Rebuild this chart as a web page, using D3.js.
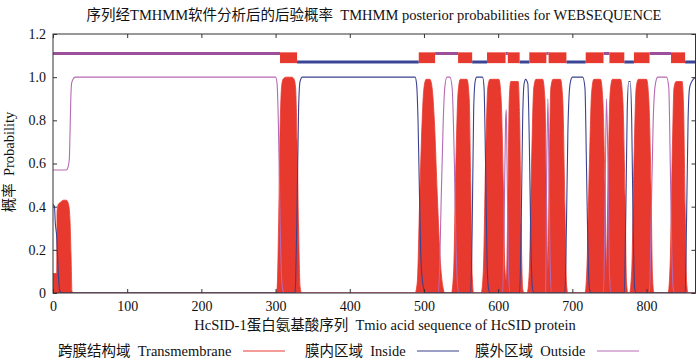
<!DOCTYPE html>
<html><head><meta charset="utf-8">
<script src="https://cdn.jsdelivr.net/npm/d3@7"></script>
<style>
html,body{margin:0;padding:0;background:#fff;}
text{font-family:"Liberation Serif","Times New Roman","Noto Sans CJK SC",serif;fill:#111;white-space:pre;}
</style></head>
<body><svg id="c" width="700" height="360"></svg>
<script>
// ---- data ----
const titleText = "序列经TMHMM软件分析后的后验概率  TMHMM posterior probabilities for WEBSEQUENCE";
const xTitle = "HcSID-1蛋白氨基酸序列  Tmio acid sequence of HcSID protein";
const yTitle = "概率  Probability";
const xTicks = [0,100,200,300,400,500,600,700,800];
const yTicks = [0,0.2,0.4,0.6,0.8,1.0,1.2];
const yTickLabels = ["0","0.2","0.4","0.6","0.8","1.0","1.2"];
const seqLength = 866;

// transmembrane posterior probability (position, probability)
const tmSeq  = [0,5,5.5,7,10,14,18,21,23,24.5,25.5,27, 300,302,304,306,308,310,314,322,325,327,329,331,333,335,
  488,491,494,497,500,503,508,511,514,518,522,526,528,
  537,540,543,546,549,558,561,563,565,567,
  577,580,583,586,589,601,604,607,609,611,613,615,617,627,629,631,633,635,
  639,642,645,648,651,660,663,665,667,669,671,674,684,687,690,692,694,
  717,720,723,726,729,738,741,744,746,748,751,754,765,768,771,773,775,
  777,780,783,786,789,800,803,806,808,810,
  829,832,835,837,840,848,850,852,854,856,866];
const tmProb = [0.09,0.09,0.38,0.41,0.42,0.43,0.43,0.41,0.33,0.15,0.01,0, 0,0.02,0.3,0.75,0.95,0.99,1.0,1.0,0.99,0.95,0.7,0.3,0.03,0,
  0,0.05,0.4,0.75,0.95,0.99,0.99,0.95,0.8,0.45,0.15,0.02,0,
  0,0.1,0.6,0.93,0.99,0.99,0.9,0.5,0.08,0,
  0,0.1,0.6,0.95,0.99,0.99,0.9,0.5,0.12,0.06,0.4,0.9,0.98,0.98,0.8,0.3,0.02,0,
  0,0.1,0.6,0.95,0.99,0.99,0.9,0.5,0.1,0.6,0.95,0.99,0.99,0.9,0.4,0.05,0,
  0,0.15,0.6,0.93,0.99,0.99,0.9,0.5,0.12,0.5,0.93,0.99,0.99,0.9,0.45,0.05,0,
  0,0.1,0.6,0.95,0.99,0.99,0.9,0.5,0.08,0,
  0,0.15,0.7,0.95,0.98,0.98,0.85,0.4,0.05,0,0];

// inside probability
const inSeq  = [0,2,3,5,7,9,12, 326,327,329,331,333,336, 488,490,492,494,496,499,502,
  563,565,567,569,571,579,581,583,585,587,589,
  629,631,633,635,637,640,642,644,646,648,
  690,692,694,697,700,714,717,719,721,723,725,
  770,772,774,776,778,780,782,784,786,
  852,854,856,858,861,866];
const inProb = [0.41,0.40,0.33,0.26,0.1,0.01,0, 0,0.05,0.4,0.85,0.98,1.0, 1.0,0.97,0.8,0.45,0.15,0.03,0,
  0,0.3,0.85,0.98,1.0,1.0,0.95,0.6,0.15,0.02,0,
  0,0.3,0.8,0.97,0.99,0.97,0.7,0.25,0.03,0,
  0,0.3,0.75,0.97,1.0,1.0,0.95,0.6,0.2,0.02,0,
  0,0.35,0.85,0.98,0.98,0.8,0.3,0.02,0,
  0,0.35,0.8,0.95,0.98,1.0];

// outside probability
const outSeq  = [0,18,20,22,23,24,25,27,30, 300,302,304,306,308,310,312,
  519,521,523,526,528,531,535,538,541,543,545,547,
  606,608,610,611,612,614,616,
  664,665,667,668,670,672,
  742,744,746,748,750,752,
  804,806,809,812,815,827,830,832,834,836,838,866];
const outProb = [0.57,0.57,0.58,0.62,0.75,0.9,0.97,0.99,1.0, 1.0,0.97,0.75,0.35,0.08,0.01,0,
  0,0.1,0.4,0.8,0.95,1.0,1.0,0.95,0.6,0.25,0.05,0,
  0,0.3,0.8,0.85,0.6,0.1,0,
  0,0.4,0.9,0.7,0.15,0,
  0,0.4,0.9,0.6,0.1,0,
  0,0.3,0.8,0.97,1.0,1.0,0.95,0.6,0.2,0.02,0,0];

// predicted topology segments
const segStart = [0,306,329,493,515,546,565,585,610,613,629,642,665,668,692,718,742,750,770,783,804,833,852];
const segEnd   = [306,329,493,515,546,565,585,610,613,629,642,665,668,692,718,742,750,770,783,804,833,852,866];
const segType  = ["outside","TM","inside","TM","outside","TM","inside","TM","outside","TM","inside","TM","outside","TM","inside","TM","outside","TM","inside","TM","outside","TM","inside"];

const legendCN = ["跨膜结构域","膜内区域","膜外区域"];
const legendEN = ["Transmembrane","Inside","Outside"];

// ---- drawing ----
const C = {tm:"#e8392f", inside:"#3b428f", outside:"#b56ab3", topIn:"#3a4596", topOut:"#9c4f9b"};
const svg = d3.select("#c");
const m = {l:53, r:695.5, t:34, b:293};
const x = d3.scaleLinear().domain([0, seqLength]).range([m.l, m.r]);
const y = d3.scaleLinear().domain([0, 1.2]).range([m.b, m.t]);

svg.append("text").attr("x",374).attr("y",20).attr("text-anchor","middle")
  .style("font-size","14.5px").text(titleText);

svg.append("defs").append("clipPath").attr("id","pc")
  .append("rect").attr("x",m.l).attr("y",m.t).attr("width",m.r-m.l).attr("height",m.b-m.t);
const g = svg.append("g").attr("clip-path","url(#pc)");

const tmData = tmSeq.map((s,i)=>[s,tmProb[i]]);
g.append("path").datum(tmData)
  .attr("d", d3.area().x(d=>x(d[0])).y0(y(0)).y1(d=>y(d[1])).curve(d3.curveMonotoneX))
  .attr("fill", C.tm).attr("stroke", C.tm).attr("stroke-width",0.8);

const line = d3.line().x(d=>x(d[0])).y(d=>y(d[1])).curve(d3.curveMonotoneX);
g.append("path").datum(outSeq.map((s,i)=>[s,outProb[i]]))
  .attr("d", line).attr("fill","none").attr("stroke", C.outside).attr("stroke-width",1.1);
g.append("path").datum(inSeq.map((s,i)=>[s,inProb[i]]))
  .attr("d", line).attr("fill","none").attr("stroke", C.inside).attr("stroke-width",1.1);

// topology bar
const segs = segStart.map((s,i)=>({s, e:segEnd[i], t:segType[i]}));
g.selectAll("line.top").data(segs.filter(d=>d.t!=="TM")).join("line")
  .attr("x1",d=>x(d.s)).attr("x2",d=>x(d.e))
  .attr("y1",d=>d.t==="inside"?y(1.07):y(1.11)).attr("y2",d=>d.t==="inside"?y(1.07):y(1.11))
  .attr("stroke",d=>d.t==="inside"?C.topIn:C.topOut).attr("stroke-width",3);
g.selectAll("rect.top").data(segs.filter(d=>d.t==="TM")).join("rect")
  .attr("x",d=>x(d.s)).attr("width",d=>x(d.e)-x(d.s))
  .attr("y",y(1.115)).attr("height",y(1.065)-y(1.115))
  .attr("fill",C.tm);

// frame and ticks
svg.append("rect").attr("x",m.l).attr("y",m.t).attr("width",m.r-m.l).attr("height",m.b-m.t)
  .attr("fill","none").attr("stroke","#333").attr("stroke-width",1);
const xb = svg.append("g").attr("transform",`translate(0,${m.b})`)
  .call(d3.axisBottom(x).tickValues(xTicks).tickSizeInner(-4).tickSizeOuter(0).tickPadding(8));
const xt = svg.append("g").attr("transform",`translate(0,${m.t})`)
  .call(d3.axisTop(x).tickValues(xTicks).tickSizeInner(-4).tickSizeOuter(0).tickFormat(""));
const yl = svg.append("g").attr("transform",`translate(${m.l},0)`)
  .call(d3.axisLeft(y).tickValues(yTicks).tickSizeInner(-4).tickSizeOuter(0).tickPadding(7)
    .tickFormat((d,i)=>yTickLabels[i]));
const yr = svg.append("g").attr("transform",`translate(${m.r},0)`)
  .call(d3.axisRight(y).tickValues(yTicks).tickSizeInner(-4).tickSizeOuter(0).tickFormat(""));
[xb,xt,yl,yr].forEach(a=>{a.select(".domain").remove(); a.selectAll("line").attr("stroke","#333");
  a.selectAll("text").style("font-size","14px").style("font-family",'"Liberation Serif",serif').attr("fill","#111");});

svg.append("text").attr("x",385).attr("y",330).attr("text-anchor","middle")
  .style("font-size","14.5px").text(xTitle);
svg.append("text").attr("transform","translate(14,162) rotate(-90)").attr("text-anchor","middle")
  .style("font-size","14.5px").text(yTitle);

// legend
const legX = [[58,243],[305,417],[475,597]];
const legCol = [C.tm, C.inside, C.outside];
legendCN.forEach((t,i)=>{
  svg.append("text").attr("x",legX[i][0]).attr("y",356).style("font-size","14.5px")
    .text(t+"  "+legendEN[i]);
  svg.append("line").attr("x1",legX[i][1]).attr("x2",legX[i][1]+42).attr("y1",351).attr("y2",351)
    .attr("stroke",legCol[i]).attr("stroke-width",1.2);
});
</script></body></html>
